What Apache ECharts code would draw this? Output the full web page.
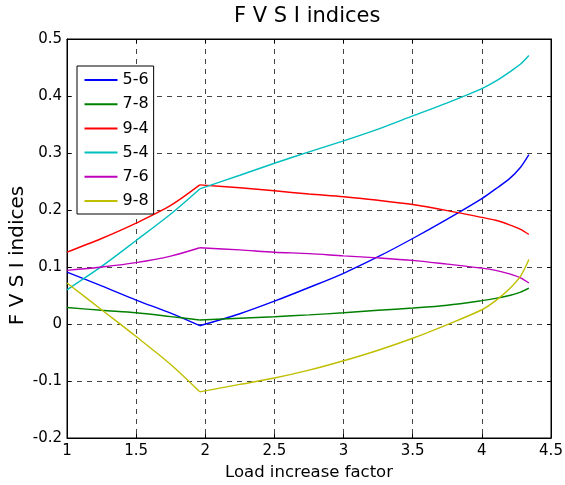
<!DOCTYPE html>
<html>
<head>
<meta charset="utf-8">
<script src="https://cdn.jsdelivr.net/npm/echarts@6/dist/echarts.min.js"></script>
<style>html,body{margin:0;padding:0;background:#fff}#c{width:565px;height:485px}</style>
</head>
<body>
<div id="c"></div>
<script>
var xValues = [1, 1.25, 1.5, 1.75, 1.96, 2.25, 2.5, 2.75, 3, 3.25, 3.5, 3.75, 4, 4.1, 4.2, 4.28, 4.34];
var s56 = [0.091, 0.067, 0.042, 0.019, -0.003, 0.018, 0.040, 0.064, 0.089, 0.118, 0.150, 0.184, 0.220, 0.237, 0.255, 0.275, 0.297];
var s78 = [0.029, 0.024, 0.0198, 0.013, 0.007, 0.010, 0.0128, 0.016, 0.0198, 0.024, 0.028, 0.033, 0.041, 0.045, 0.050, 0.056, 0.063];
var s94 = [0.126, 0.150, 0.177, 0.208, 0.244, 0.239, 0.2337, 0.228, 0.2233, 0.217, 0.2096, 0.199, 0.187, 0.182, 0.174, 0.166, 0.157];
var s54 = [0.060, 0.101, 0.1465, 0.193, 0.237, 0.261, 0.282, 0.302, 0.3214, 0.342, 0.365, 0.388, 0.413, 0.426, 0.442, 0.456, 0.471];
var s76 = [0.094, 0.100, 0.1076, 0.119, 0.1337, 0.130, 0.126, 0.1235, 0.1195, 0.116, 0.1116, 0.105, 0.098, 0.094, 0.088, 0.081, 0.072];
var s98 = [0.072, 0.025, -0.022, -0.071, -0.119, -0.106, -0.0948, -0.081, -0.0645, -0.046, -0.025, -0.001, 0.025, 0.041, 0.062, 0.084, 0.113];
var kinkIndex = 4;
var seriesNames = ['5-6', '7-8', '9-4', '5-4', '7-6', '9-8'];
var seriesValues = [s56, s78, s94, s54, s76, s98];
var seriesColors = ['#0000ff', '#008000', '#ff0000', '#00bfbf', '#bf00bf', '#bfbf00'];
var xTicks = {min: 1, max: 4.5, interval: 0.5};
var yTicks = {min: -0.2, max: 0.5, interval: 0.1};

var FONT = '"DejaVu Sans", sans-serif';
function pairs(vals, a, b) {
  var out = [];
  for (var i = a; i < b; i++) out.push([xValues[i], vals[i]]);
  return out;
}

var chart = echarts.init(document.getElementById('c'), null, {renderer: 'canvas'});
var gridLine = {show: true, lineStyle: {color: '#444', type: [5, 5], width: 1}};
var series = [];
seriesNames.forEach(function (n, i) {
  var common = {
    name: n, type: 'line', showSymbol: false, symbol: 'none',
    smooth: 0.3,
    lineStyle: {color: seriesColors[i], width: 1.4},
    itemStyle: {color: seriesColors[i]}
  };
  series.push(Object.assign({}, common, {data: pairs(seriesValues[i], 0, kinkIndex + 1)}));
  series.push(Object.assign({}, common, {data: pairs(seriesValues[i], kinkIndex, xValues.length)}));
});
var option = {
  animation: false,
  backgroundColor: '#fff',
  title: {
    text: 'F V S I indices', left: 229, top: 1,
    textStyle: {fontFamily: FONT, fontSize: 21, fontWeight: 'normal', color: '#000'}
  },
  legend: {
    orient: 'vertical', left: 77, top: 66,
    padding: [6, 5, 5, 7.5],
    backgroundColor: '#fff', borderColor: '#000', borderWidth: 1,
    itemWidth: 33, itemHeight: 2, itemGap: 8.2, icon: 'rect',
    textStyle: {fontFamily: FONT, fontSize: 16, color: '#000', lineHeight: 15},
    data: seriesNames
  },
  grid: {left: 67, right: 14, top: 39, bottom: 47, show: true, borderColor: '#000', borderWidth: 1,
    containLabel: false, outerBoundsMode: 'none'},
  xAxis: [{
    type: 'value', min: xTicks.min, max: xTicks.max, interval: xTicks.interval,
    name: 'Load increase factor', nameLocation: 'middle', nameGap: 23,
    nameTextStyle: {fontFamily: FONT, fontSize: 16.5, color: '#000'},
    axisLine: {show: true, onZero: false, lineStyle: {color: '#000'}},
    axisTick: {show: true, inside: true, length: 4, lineStyle: {color: '#000'}},
    axisLabel: {fontFamily: FONT, fontSize: 15, color: '#000', margin: 6},
    splitLine: gridLine
  }, {
    type: 'value', position: 'top', min: xTicks.min, max: xTicks.max, interval: xTicks.interval,
    axisLine: {show: true, onZero: false, lineStyle: {color: '#000'}},
    axisTick: {show: true, inside: true, length: 4, lineStyle: {color: '#000'}},
    axisLabel: {show: false}, splitLine: {show: false}
  }],
  yAxis: [{
    type: 'value', min: yTicks.min, max: yTicks.max, interval: yTicks.interval,
    name: 'F V S I indices', nameLocation: 'middle', nameGap: 39, nameMoveOverlap: false,
    nameTextStyle: {fontFamily: FONT, fontSize: 20, color: '#000', padding: [0, 34, 0, 0]},
    axisLine: {show: true, onZero: false, lineStyle: {color: '#000'}},
    axisTick: {show: true, inside: true, length: 4, lineStyle: {color: '#000'}},
    axisLabel: {fontFamily: FONT, fontSize: 15, color: '#000', margin: 5,
      formatter: function (v) { return String(Math.round(v * 10) / 10); }},
    splitLine: gridLine
  }, {
    type: 'value', position: 'right', min: yTicks.min, max: yTicks.max, interval: yTicks.interval,
    axisLine: {show: true, onZero: false, lineStyle: {color: '#000'}},
    axisTick: {show: true, inside: true, length: 4, lineStyle: {color: '#000'}},
    axisLabel: {show: false}, splitLine: {show: false}
  }],
  series: series
};
chart.setOption(option);
</script>
</body>
</html>
